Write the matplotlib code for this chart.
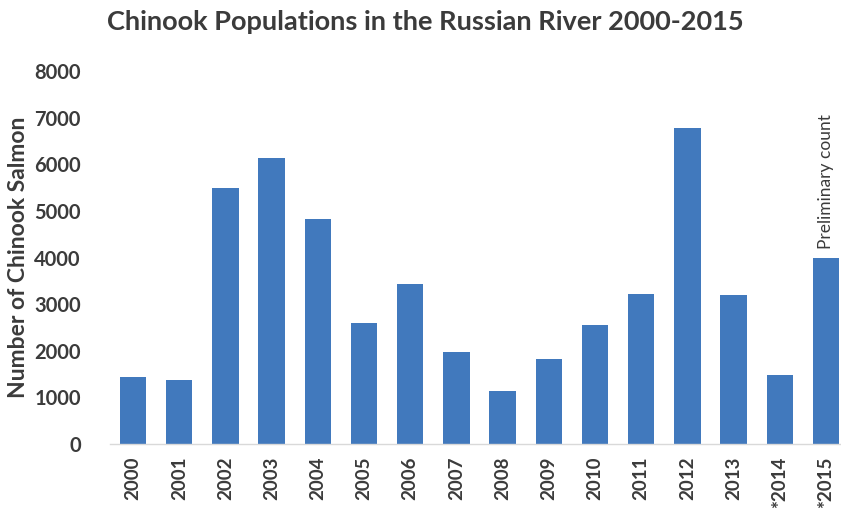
import matplotlib
matplotlib.use("Agg")
import matplotlib.pyplot as plt

years = ["2000", "2001", "2002", "2003", "2004", "2005", "2006", "2007",
         "2008", "2009", "2010", "2011", "2012", "2013", "*2014", "*2015"]
counts = [1430, 1375, 5500, 6140, 4820, 2590, 3430, 1980,
          1140, 1820, 2555, 3210, 6775, 3195, 1480, 4000]
yticks = [0, 1000, 2000, 3000, 4000, 5000, 6000, 7000, 8000]

title = "Chinook Populations in the Russian River 2000-2015"
ylabel = "Number of Chinook Salmon"
note = "Preliminary count"

plt.rcParams["font.family"] = ["Lato", "DejaVu Sans"]
text_color = "#3b3b3b"
bar_color = "#4179bd"

fig = plt.figure(figsize=(8.41, 5.08), dpi=100)
ax = fig.add_axes([110 / 841, 1 - 444 / 508, (849 - 110) / 841, (444 - 71) / 508])

x = list(range(len(years)))
ax.bar(x, counts, width=0.57, color=bar_color, zorder=2)

ax.set_xlim(-0.5, len(years) - 0.5)
ax.set_ylim(0, 8000)
ax.set_yticks(yticks)
ax.set_yticklabels([str(v) for v in yticks], fontsize=14.5, fontweight="bold",
                   color=text_color)
ax.set_xticks(x)
ax.set_xticklabels(years, rotation=90, fontsize=13.5, fontweight="bold",
                   color=text_color)
ax.tick_params(axis="both", length=0)
ax.tick_params(axis="y", pad=21)
ax.tick_params(axis="x", pad=9)

for side in ("top", "right", "left"):
    ax.spines[side].set_visible(False)
ax.spines["bottom"].set_color("#d9d9d9")
ax.spines["bottom"].set_linewidth(1.0)

ax.set_ylabel(ylabel, fontsize=16.5, fontweight="bold", color=text_color)
ax.yaxis.set_label_coords(-(110 - 29) / 739, 0.5)

# Annotation above the last (preliminary) bar
ax.annotate(note, xy=(x[-1], counts[-1]), xytext=(0, 6), textcoords="offset points",
            rotation=90, ha="center", va="bottom", fontsize=12.5, color=text_color)

fig.text(0.506, 1 - 22 / 508, title, ha="center", va="center", fontsize=19.5,
         fontweight="bold", color=text_color)

fig.savefig("out.png", dpi=100, facecolor="white")
